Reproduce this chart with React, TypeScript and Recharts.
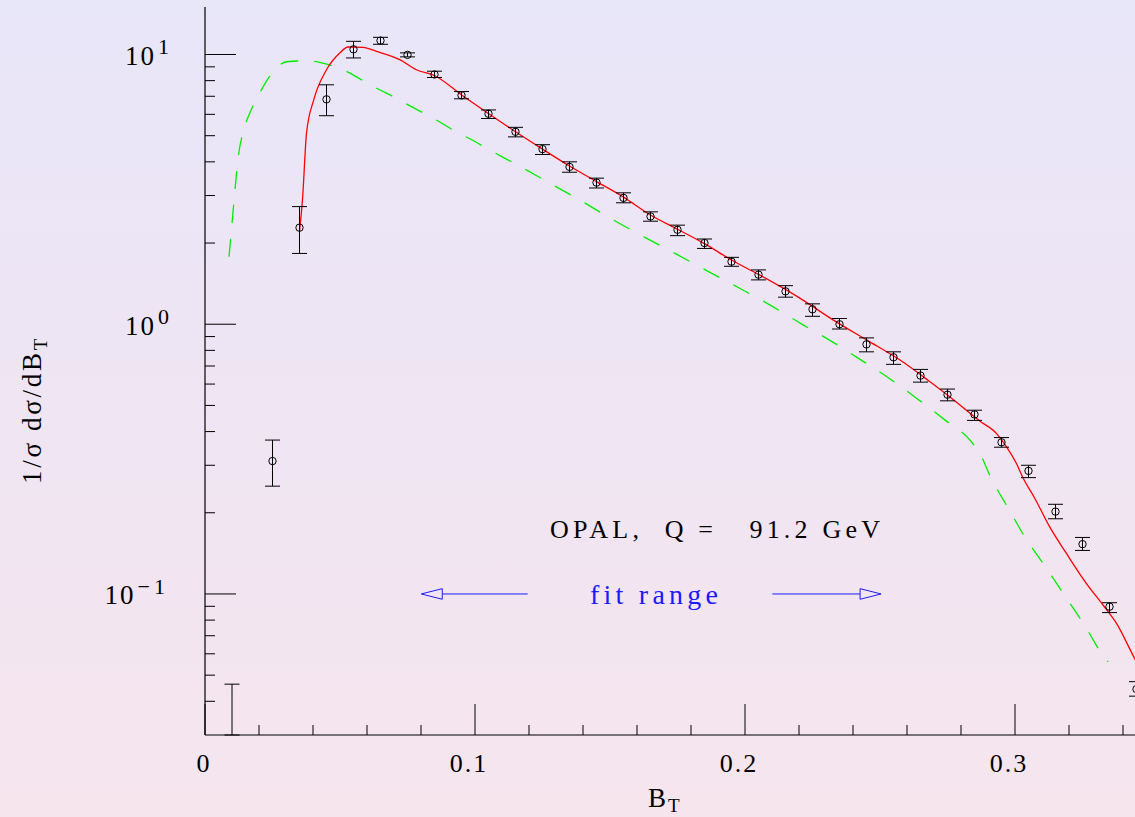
import React from 'react';
import {
  ComposedChart,
  Line,
  Scatter,
  XAxis,
  YAxis,
  ErrorBar,
  ReferenceLine,
  ReferenceDot,
} from 'recharts';

// ---------- data ----------
// first bin: its value lies below the axis floor (0.03); only the upper part of its error bar shows
const BIN_X = [
  0.01, 0.025, 0.035, 0.045, 0.055, 0.065, 0.075, 0.085, 0.095, 0.105, 0.115, 0.125,
  0.135, 0.145, 0.155, 0.165, 0.175, 0.185, 0.195, 0.205, 0.215, 0.225, 0.235, 0.245,
  0.255, 0.265, 0.275, 0.285, 0.295, 0.305, 0.315, 0.325, 0.335, 0.345,
];
const DATA_Y = [
  0.03, 0.311, 2.28, 6.82, 10.45, 11.26, 9.97, 8.43, 7.06, 6.03, 5.17, 4.46,
  3.83, 3.35, 2.94, 2.51, 2.24, 2.0, 1.706, 1.527, 1.324, 1.136, 1.0, 0.842,
  0.754, 0.645, 0.548, 0.463, 0.365, 0.286, 0.202, 0.153, 0.0897, 0.0444,
];
const DATA_LO = [
  0.03, 0.251, 1.83, 5.93, 9.71, 10.91, 9.8, 8.22, 6.85, 5.79, 4.95, 4.26,
  3.66, 3.2, 2.82, 2.41, 2.13, 1.91, 1.64, 1.46, 1.26, 1.07, 0.96, 0.79,
  0.71, 0.61, 0.52, 0.44, 0.35, 0.27, 0.19, 0.145, 0.0853, 0.0418,
];
const DATA_HI = [
  0.0463, 0.372, 2.73, 7.72, 11.19, 11.58, 10.14, 8.67, 7.29, 6.23, 5.37, 4.63,
  4.0, 3.48, 3.07, 2.61, 2.33, 2.07, 1.77, 1.59, 1.39, 1.19, 1.05, 0.89,
  0.79, 0.68, 0.575, 0.48, 0.38, 0.3, 0.215, 0.162, 0.0928, 0.0473,
];

const RED_X = [
  0.035, 0.0361, 0.0376, 0.0403, 0.045, 0.0499, 0.053, 0.0585, 0.0635, 0.0721, 0.0783,
  0.0851, 0.0953, 0.1048, 0.115, 0.125, 0.135, 0.145, 0.155, 0.165, 0.175, 0.185,
  0.195, 0.205, 0.2203, 0.2326, 0.245, 0.2573, 0.2684, 0.2758, 0.2869, 0.2931, 0.2968,
  0.3005, 0.303, 0.3073, 0.3128, 0.319, 0.3264, 0.3326, 0.3376, 0.3443, 0.35,
];
const RED_Y = [
  2.21, 2.89, 5.11, 6.8, 8.78, 10.13, 10.66, 10.62, 10.27, 9.57, 8.78,
  8.34, 7.05, 6.06, 5.17, 4.46, 3.86, 3.38, 2.96, 2.54, 2.25, 1.99,
  1.73, 1.53, 1.25, 1.038, 0.875, 0.738, 0.613, 0.538, 0.438, 0.394, 0.352,
  0.305, 0.269, 0.2265, 0.1777, 0.1416, 0.1095, 0.091, 0.0778, 0.0577, 0.046,
];

const GREEN_X = [
  0.0089, 0.0098, 0.011, 0.0122, 0.0147, 0.0166, 0.0196, 0.0227, 0.027, 0.0302, 0.0351,
  0.04, 0.0456, 0.0524, 0.0579, 0.0641, 0.0696, 0.0758, 0.0814, 0.0876, 0.0931, 0.0993,
  0.1048, 0.1166, 0.1283, 0.14, 0.1511, 0.1629, 0.1746, 0.1863, 0.198, 0.2098, 0.2215,
  0.2301, 0.2413, 0.2524, 0.2635, 0.274, 0.2838, 0.2876, 0.2906, 0.2953, 0.2968, 0.3036,
  0.3113, 0.3187, 0.3261, 0.3329, 0.3345,
];
const GREEN_Y = [
  1.78, 2.24, 3.06, 4.07, 5.41, 6.07, 6.99, 7.95, 9.03, 9.4, 9.46,
  9.43, 9.17, 8.66, 8.06, 7.45, 6.99, 6.46, 6.03, 5.57, 5.16, 4.8,
  4.46, 3.85, 3.31, 2.84, 2.44, 2.1, 1.82, 1.57, 1.36, 1.17, 0.995,
  0.888, 0.755, 0.64, 0.532, 0.442, 0.367, 0.323, 0.276, 0.2265, 0.214, 0.163,
  0.126, 0.0977, 0.0756, 0.0585, 0.056,
];

// ---------- axes ----------
const X_DOMAIN = [0, 0.35];
const Y_DOMAIN = [0.03, 15];
const X_TICKS = [
  0, 0.02, 0.04, 0.06, 0.08, 0.1, 0.12, 0.14, 0.16, 0.18, 0.2, 0.22, 0.24, 0.26, 0.28,
  0.3, 0.32, 0.34,
];
const X_MAJOR = [0, 0.1, 0.2, 0.3];
const X_LABELS = ['0', '0.1', '0.2', '0.3'];
const Y_TICKS = [
  0.04, 0.05, 0.06, 0.07, 0.08, 0.09, 0.1, 0.2, 0.3, 0.4, 0.5, 0.6, 0.7, 0.8, 0.9,
  1, 2, 3, 4, 5, 6, 7, 8, 9, 10,
];
const Y_MAJOR = [0.1, 1, 10];
const Y_EXP = ['\u22121', '0', '1'];

// ---------- annotations ----------
const FIT_Y = 0.1;
const FIT_LEFT_TIP = 0.0801;
const FIT_LEFT_LINE = [0.088, 0.1195];
const FIT_RIGHT_LINE = [0.2101, 0.2426];
const FIT_RIGHT_TIP = 0.2504;
const FIT_TEXT = { x: 0.1663, y: 0.1, text: 'fit range' };
const OPAL_TEXT = { x: 0.1278, y: 0.1612, text: 'OPAL,  Q =   91.2 GeV' };

const FONT = '"Liberation Serif", "DejaVu Serif", serif';
const INK = '#000';
const BLUE = '#1a1aff';

const points = BIN_X.map((x, i) => ({
  x,
  y: DATA_Y[i],
  err: [DATA_Y[i] - DATA_LO[i], DATA_HI[i] - DATA_Y[i]],
}));
const redData = RED_X.map((x, i) => ({ x, y: RED_Y[i] }));
const greenData = GREEN_X.map((x, i) => ({ x, y: GREEN_Y[i] }));

const MAJ = 31;
const MIN = 10;

const LeftTick = (p: any) => {
  const { x, y, payload } = p;
  const i = Y_MAJOR.indexOf(payload.value);
  const len = i >= 0 ? MAJ : MIN;
  return (
    <g>
      <line x1={x} x2={x + len} y1={y} y2={y} stroke={INK} strokeWidth={1} />
      {i >= 0 && (
        <text x={x - 36} y={y + 10.5} textAnchor="end" fontFamily={FONT} fontSize={27} fill={INK}>
          <tspan letterSpacing={2}>10</tspan>
          <tspan dy={-10.5} dx={2} fontSize={22} letterSpacing={i === 0 ? 4 : 0}>
            {Y_EXP[i]}
          </tspan>
        </text>
      )}
    </g>
  );
};

const RightTick = (p: any) => {
  const { x, y, payload } = p;
  const i = Y_MAJOR.indexOf(payload.value);
  const len = i >= 0 ? MAJ : MIN;
  return <line x1={x} x2={x - len} y1={y} y2={y} stroke={INK} strokeWidth={1} />;
};

const BottomTick = (p: any) => {
  const { x, y, payload } = p;
  const i = X_MAJOR.indexOf(payload.value);
  const len = i >= 0 ? MAJ : MIN;
  return (
    <g>
      <line x1={x} x2={x} y1={y} y2={y - len} stroke={INK} strokeWidth={1} />
      {i >= 0 && (
        <text
          x={x + (payload.value === 0 ? -1 : -6)}
          y={y + 36.7}
          textAnchor="middle"
          fontFamily={FONT}
          fontSize={26}
          letterSpacing={2}
          fill={INK}
        >
          {X_LABELS[i]}
        </text>
      )}
    </g>
  );
};

const TopTick = (p: any) => {
  const { x, y, payload } = p;
  const i = X_MAJOR.indexOf(payload.value);
  const len = i >= 0 ? MAJ : MIN;
  return <line x1={x} x2={x} y1={y} y2={y + len} stroke={INK} strokeWidth={1} />;
};

const YLabel = (p: any) => {
  const vb = p.viewBox || { x: 0, y: 0, width: 0, height: 0 };
  const cx = vb.x + 41;
  const cy = vb.y + vb.height / 2 + 39;
  return (
    <text
      x={cx}
      y={cy}
      transform={`rotate(-90 ${cx} ${cy})`}
      textAnchor="middle"
      fontFamily={FONT}
      fontSize={27}
      letterSpacing={2.7}
      fill={INK}
      style={{ whiteSpace: 'pre' }}
    >
      1/σ dσ/dB
      <tspan fontSize={19} dy={6}>
        T
      </tspan>
    </text>
  );
};

const XLabel = (p: any) => {
  const vb = p.viewBox || { x: 0, y: 0, width: 0, height: 0 };
  const x = vb.x + 443;
  const y = vb.y + 72;
  return (
    <text x={x} y={y} fontFamily={FONT} fontSize={27} fill={INK}>
      B
      <tspan fontSize={19} dy={5} dx={2}>
        T
      </tspan>
    </text>
  );
};

const Circle = (p: any) => {
  if (p.cx == null || p.cy == null) return null;
  const v = p.payload ? p.payload.y : null;
  if (v != null && v <= Y_DOMAIN[0]) return <g />;
  return <circle cx={p.cx} cy={p.cy} r={3.7} fill="none" stroke={INK} strokeWidth={1} />;
};

export default function App() {
  return (
    <div
      style={{
        position: 'fixed',
        left: 0,
        top: 0,
        width: 1135,
        height: 817,
        overflow: 'hidden',
        background: 'linear-gradient(to bottom, #e8e6f9 0%, #efe5f3 50%, #f6e5ed 100%)',
      }}
    >
      <ComposedChart
        width={1160}
        height={817}
        margin={{ top: 7, right: 10, bottom: 0, left: 0 }}
      >
        <XAxis
          xAxisId="b"
          dataKey="x"
          type="number"
          domain={X_DOMAIN}
          allowDataOverflow
          ticks={X_TICKS}
          interval={0}
          tickLine={false}
          tickSize={0}
          tickMargin={0}
          tick={<BottomTick />}
          axisLine={{ stroke: INK, strokeWidth: 1.2 }}
          height={82}
          orientation="bottom"
          label={{ content: <XLabel /> } as any}
        />
        <XAxis
          xAxisId="t"
          dataKey="x"
          type="number"
          domain={X_DOMAIN}
          allowDataOverflow
          ticks={X_TICKS}
          interval={0}
          tickLine={false}
          tickSize={0}
          tickMargin={0}
          tick={<TopTick />}
          axisLine={{ stroke: INK, strokeWidth: 1.2 }}
          height={0}
          orientation="top"
        />
        <YAxis
          yAxisId="l"
          type="number"
          scale="log"
          domain={Y_DOMAIN}
          allowDataOverflow
          ticks={Y_TICKS}
          interval={0}
          tickLine={false}
          tickSize={0}
          tickMargin={0}
          tick={<LeftTick />}
          axisLine={{ stroke: INK, strokeWidth: 1.2 }}
          width={205}
          orientation="left"
          label={{ content: <YLabel /> } as any}
        />
        <YAxis
          yAxisId="r"
          type="number"
          scale="log"
          domain={Y_DOMAIN}
          allowDataOverflow
          ticks={Y_TICKS}
          interval={0}
          tickLine={false}
          tickSize={0}
          tickMargin={0}
          tick={<RightTick />}
          axisLine={{ stroke: INK, strokeWidth: 1.2 }}
          width={0}
          orientation="right"
        />

        <Line
          xAxisId="b"
          yAxisId="l"
          data={greenData}
          dataKey="y"
          type="monotone"
          stroke="#00ee00"
          strokeWidth={1.3}
          strokeDasharray="18 16"
          dot={false}
          activeDot={false}
          isAnimationActive={false}
        />
        <Line
          xAxisId="b"
          yAxisId="l"
          data={redData}
          dataKey="y"
          type="monotone"
          stroke="#ff0000"
          strokeWidth={1.3}
          dot={false}
          activeDot={false}
          isAnimationActive={false}
        />
        <Scatter
          xAxisId="b"
          yAxisId="l"
          data={points}
          dataKey="y"
          shape={<Circle />}
          isAnimationActive={false}
        >
          <ErrorBar dataKey="err" direction="y" width={7.5} stroke={INK} strokeWidth={1} isAnimationActive={false} />
        </Scatter>

        <ReferenceLine
          xAxisId="b"
          yAxisId="l"
          segment={[
            { x: FIT_LEFT_LINE[0], y: FIT_Y },
            { x: FIT_LEFT_LINE[1], y: FIT_Y },
          ]}
          stroke={BLUE}
          strokeWidth={1}
        />
        <ReferenceLine
          xAxisId="b"
          yAxisId="l"
          segment={[
            { x: FIT_RIGHT_LINE[0], y: FIT_Y },
            { x: FIT_RIGHT_LINE[1], y: FIT_Y },
          ]}
          stroke={BLUE}
          strokeWidth={1}
        />
        <ReferenceDot
          xAxisId="b"
          yAxisId="l"
          x={FIT_LEFT_TIP}
          y={FIT_Y}
          r={1}
          shape={(p: any) => (
            <polygon
              points={`${p.cx},${p.cy} ${p.cx + 21},${p.cy - 5.3} ${p.cx + 21},${p.cy + 5.3}`}
              fill="none"
              stroke={BLUE}
              strokeWidth={1}
            />
          )}
        />
        <ReferenceDot
          xAxisId="b"
          yAxisId="l"
          x={FIT_RIGHT_TIP}
          y={FIT_Y}
          r={1}
          shape={(p: any) => (
            <polygon
              points={`${p.cx},${p.cy} ${p.cx - 21},${p.cy - 5.3} ${p.cx - 21},${p.cy + 5.3}`}
              fill="none"
              stroke={BLUE}
              strokeWidth={1}
            />
          )}
        />
        <ReferenceDot
          xAxisId="b"
          yAxisId="l"
          x={FIT_TEXT.x}
          y={FIT_TEXT.y}
          r={1}
          shape={(p: any) => (
            <text
              x={p.cx}
              y={p.cy + 10}
              textAnchor="middle"
              fontFamily={FONT}
              fontSize={28}
              fill={BLUE}
              textLength={128}
              lengthAdjust="spacing"
            >
              {FIT_TEXT.text}
            </text>
          )}
        />
        <ReferenceDot
          xAxisId="b"
          yAxisId="l"
          x={OPAL_TEXT.x}
          y={OPAL_TEXT.y}
          r={1}
          shape={(p: any) => (
            <text
              x={p.cx}
              y={p.cy}
              textAnchor="start"
              fontFamily={FONT}
              fontSize={26}
              fill={INK}
              textLength={330}
              lengthAdjust="spacing"
              style={{ whiteSpace: 'pre' }}
            >
              {OPAL_TEXT.text}
            </text>
          )}
        />
      </ComposedChart>
    </div>
  );
}
